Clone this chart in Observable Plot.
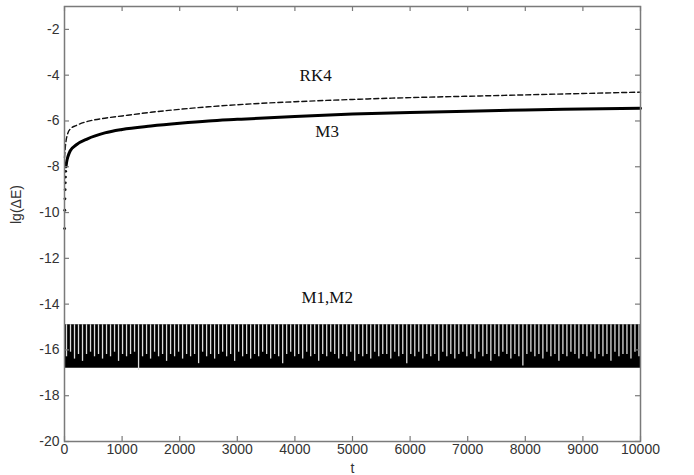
<!DOCTYPE html>
<html>
<head>
<meta charset="utf-8">
<script src="https://cdn.jsdelivr.net/npm/d3@7"></script>
<script src="https://cdn.jsdelivr.net/npm/@observablehq/plot@0.6"></script>
<style>
  html, body { margin: 0; padding: 0; background: #fff; }
  #chart { width: 694px; height: 475px; }
</style>
</head>
<body>
<div id="chart"></div>
<script>
// ---- data ----
const xTicks = [0, 1000, 2000, 3000, 4000, 5000, 6000, 7000, 8000, 9000, 10000];
const yTicks = [-20, -18, -16, -14, -12, -10, -8, -6, -4, -2];

const rk4T   = [0, 20, 50, 100, 200, 400, 700, 1000, 1500, 2000, 2500, 3000, 4000, 5000, 6000, 7000, 8000, 9000, 10000];
const rk4Err = [-7.6, -7.0, -6.6, -6.35, -6.2, -6.02, -5.88, -5.78, -5.62, -5.49, -5.38, -5.29, -5.16, -5.06, -4.98, -4.92, -4.86, -4.8, -4.74];

const m3T    = [25, 40, 60, 100, 200, 400, 700, 1000, 1500, 2000, 2500, 3000, 4000, 5000, 6000, 7000, 8000, 9000, 10000];
const m3Err  = [-8.0, -7.75, -7.55, -7.3, -7.05, -6.78, -6.52, -6.37, -6.22, -6.1, -6.0, -5.93, -5.8, -5.7, -5.63, -5.57, -5.52, -5.48, -5.44];
// scattered early M3 points
const m3EarlyT   = [2, 5, 8, 11, 14, 17, 20];
const m3EarlyErr = [-10.7, -9.9, -9.4, -9.0, -8.7, -8.45, -8.2];

// M1,M2 oscillation: envelope and the dips between the spikes
const m12EnvT  = [0, 10000];
const m12Low   = [-16.8, -16.8];
const m12High  = [-14.9, -14.9];
const m12DipPeriod = 69.5;
const m12DipBottom = [
  -16.3,-16.1,-16.4,-16.2,-16.5,-16.2,-16.1,-16.3,-16.2,-16.4,
  -16.2,-16.3,-16.1,-16.5,-16.2,-16.3,-16.2,-16.1,-16.9,-16.3,
  -16.2,-16.4,-16.1,-16.3,-16.2,-16.5,-16.2,-16.3,-16.1,-16.4,
  -16.2,-16.3,-16.2,-16.6,-16.1,-16.3,-16.2,-16.4,-16.2,-16.1,
  -16.3,-16.2,-16.5,-16.1,-16.3,-16.2,-16.4,-16.2,-16.3,-16.1,
  -16.2,-16.4,-16.2,-16.3,-16.6,-16.2,-16.1,-16.3,-16.2,-16.4,
  -16.1,-16.3,-16.2,-16.5,-16.2,-16.3,-16.1,-16.2,-16.4,-16.2,
  -16.3,-16.1,-16.5,-16.2,-16.3,-16.2,-16.4,-16.1,-16.3,-16.2,
  -16.2,-16.4,-16.1,-16.3,-16.2,-16.6,-16.2,-16.3,-16.1,-16.4,
  -16.2,-16.3,-16.2,-16.5,-16.1,-16.3,-16.2,-16.4,-16.2,-16.1,
  -16.3,-16.2,-16.4,-16.1,-16.3,-16.2,-16.5,-16.2,-16.3,-16.1,
  -16.2,-16.4,-16.2,-16.3,-16.7,-16.2,-16.1,-16.3,-16.2,-16.4,
  -16.1,-16.3,-16.2,-16.5,-16.2,-16.3,-16.1,-16.2,-16.4,-16.2,
  -16.3,-16.1,-16.4,-16.2,-16.3,-16.2,-16.5,-16.1,-16.3,-16.2,
  -16.2,-16.4,-16.1,-16.3
];

const labelText = ["RK4", "M3", "M1,M2"];
const labelT    = [4360, 4560, 4560];
const labelY    = [-4.0, -6.45, -13.7];

// ---- build tables ----
const rk4 = rk4T.map((t, i) => ({t, v: rk4Err[i]}));
const m3 = m3T.map((t, i) => ({t, v: m3Err[i]}));
const m3Early = m3EarlyT.map((t, i) => ({t, v: m3EarlyErr[i]}));
const env = m12EnvT.map((t, i) => ({t, lo: m12Low[i], hi: m12High[i]}));
const dips = m12DipBottom.map((b, i) => ({t: m12DipPeriod * (i + 0.5), lo: b, hi: m12High[0]}));
const labels = labelText.map((s, i) => ({s, t: labelT[i], v: labelY[i]}));

const frameColor = "#7a7a7a";
const tickFont = "Liberation Sans, Arial, sans-serif";
const W = 694, H = 475, ML = 64, MR = 54, MT = 6, MB = 34;
const frameW = W - ML - MR, frameH = H - MT - MB, tickLen = 5;

const chart = Plot.plot({
  width: W,
  height: H,
  marginLeft: ML,
  marginRight: MR,
  marginTop: MT,
  marginBottom: MB,
  style: {fontFamily: tickFont, fontSize: "14px", color: "#333", background: "#fff"},
  x: {domain: [0, 10000]},
  y: {domain: [-20, -1]},
  marks: [
    // M1, M2 band
    Plot.areaY(env, {x: "t", y1: "lo", y2: "hi", fill: "#000"}),
    Plot.ruleX(dips, {x: "t", y1: "lo", y2: "hi", stroke: "#dcdcdc", strokeWidth: 1.3}),
    // RK4 dashed, M3 thick
    Plot.line(rk4, {x: "t", y: "v", stroke: "#111", strokeWidth: 1.4, strokeDasharray: "5,3", curve: "monotone-x"}),
    Plot.line(m3, {x: "t", y: "v", stroke: "#000", strokeWidth: 3, curve: "monotone-x"}),
    Plot.dot(m3Early, {x: "t", y: "v", r: 1.4, fill: "#000"}),
    // frame
    Plot.frame({stroke: frameColor, strokeWidth: 1.5}),
    // inward ticks on all four sides
    Plot.tickX(xTicks, {x: d => d, insetTop: frameH - tickLen, stroke: frameColor, strokeWidth: 1.2}),
    Plot.tickX(xTicks, {x: d => d, insetBottom: frameH - tickLen, stroke: frameColor, strokeWidth: 1.2}),
    Plot.tickY(yTicks, {y: d => d, insetRight: frameW - tickLen, stroke: frameColor, strokeWidth: 1.2}),
    Plot.tickY(yTicks, {y: d => d, insetLeft: frameW - tickLen, stroke: frameColor, strokeWidth: 1.2}),
    // tick labels
    Plot.axisX(xTicks, {anchor: "bottom", tickSize: 0, tickPadding: 3, stroke: "none", fill: "#333", fontSize: 14, label: null, tickFormat: d => String(d)}),
    Plot.axisY(yTicks, {anchor: "left", tickSize: 0, tickPadding: 5, stroke: "none", fill: "#333", fontSize: 14, label: null, tickFormat: d => String(d)}),
    // annotations
    Plot.text(labels, {x: "t", y: "v", text: "s", fontFamily: "Liberation Serif, Times New Roman, serif", fontSize: 17, fill: "#111"}),
    // axis titles
    Plot.text(["lg(\u0394E)"], {frameAnchor: "left", rotate: -90, dx: -48, fontSize: 14, fill: "#333"}),
    Plot.text(["t"], {frameAnchor: "bottom", dy: 27, lineAnchor: "middle", fontSize: 14, fill: "#333"})
  ]
});
document.getElementById("chart").appendChild(chart);
</script>
</body>
</html>
